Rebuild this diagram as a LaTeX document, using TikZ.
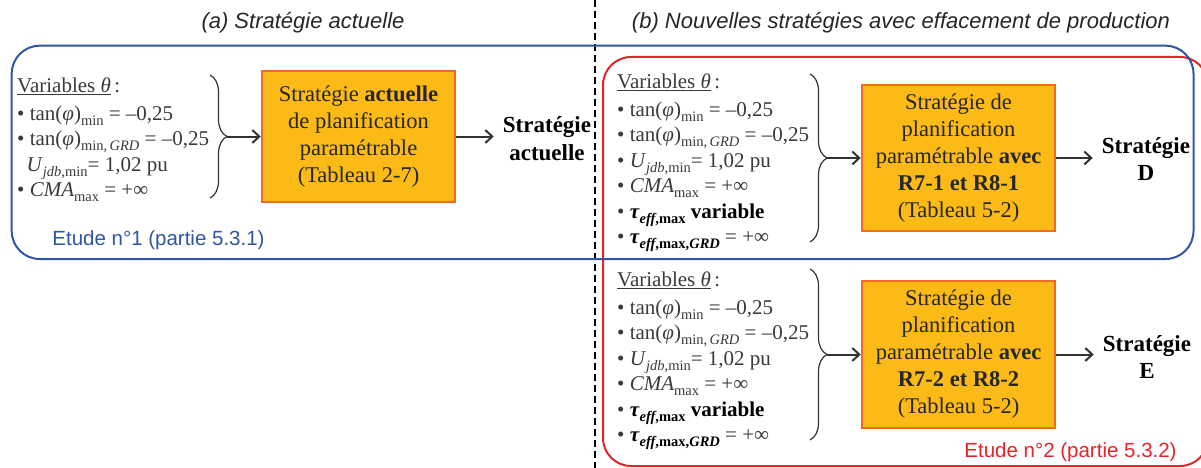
\documentclass[tikz,border=0pt]{standalone}
\usepackage{fontspec}
\setmainfont{Liberation Serif}
\setsansfont{Liberation Sans}
\usetikzlibrary{arrows.meta,decorations.pathreplacing}
\definecolor{bluebox}{HTML}{2F55A4}
\definecolor{redbox}{HTML}{E4232B}
\definecolor{orfill}{HTML}{FBBA16}
\definecolor{ordraw}{HTML}{F26A22}
\definecolor{txt}{HTML}{3A3A3A}
\newcommand\lsub[1]{\raisebox{-5pt}{\fontsize{14.5}{14.5}\selectfont #1}}
\newcommand\bk[1]{\textcolor{black}{\textbf{#1}}}
\begin{document}
\begin{tikzpicture}[x=1pt,y=-1pt,
  title/.style={font=\sffamily\itshape\fontsize{22}{26}\selectfont, text=black!85, inner sep=0},
  vars/.style={font=\fontsize{21}{25.5}\selectfont, text=txt, align=left, anchor=north west, inner sep=0},
  stratbox/.style={draw=ordraw, fill=orfill, line width=2.5pt, minimum width=193pt, align=center, font=\fontsize{22.5}{27}\selectfont, inner sep=0, text=black!85},
  result/.style={font=\bfseries\fontsize{23}{27.5}\selectfont, align=center, inner sep=0},
  conn/.style={-{Straight Barb[length=7pt,width=13pt,line width=2pt]}, line width=2pt, draw=black!80},
  bracestyle/.style={decorate, decoration={brace, amplitude=17pt, aspect=0.5}, line width=1.2pt, draw=black!80},
  etude/.style={font=\sffamily\fontsize{20.5}{24}\selectfont, inner sep=0}]

\useasboundingbox (0,0) rectangle (1201,468);

\draw[dash pattern=on 7pt off 4pt, line width=1.2pt] (595,0) -- (595,468);
\draw[redbox, line width=2pt, rounded corners=28pt] (603,57) rectangle (1208,466);
\draw[bluebox, line width=2pt, rounded corners=28pt] (11.7,45.7) rectangle (1193.5,259);

\node[title] (ta) at (303,23) {(a) Stratégie actuelle};
\node[title] (tb) at (901,23) {(b) Nouvelles stratégies avec effacement de production};

% boxes
\node[stratbox, minimum height=131pt] (b1) at (358.5,136.5) {Stratégie \textbf{actuelle}\\de planification\\paramétrable\\(Tableau 2-7)};
\node[stratbox, minimum height=146pt] (b2) at (958.5,158) {Stratégie de\\planification\\paramétrable \textbf{avec}\\\textbf{R7-1 et R8-1}\\(Tableau 5-2)};
\node[stratbox, minimum height=147pt] (b3) at (958.5,354.5) {Stratégie de\\planification\\paramétrable \textbf{avec}\\\textbf{R7-2 et R8-2}\\(Tableau 5-2)};

% results
\node[result] (s1) at (547,138.5) {Stratégie\\actuelle};
\node[result] (s2) at (1146,159) {Stratégie\\D};
\node[result] (s3) at (1147,357) {Stratégie\\E};

% variables
\node[vars] (v1) at (17,78) {\underline{Variables \textit{θ}}\,:\\[2pt]
• tan(\textit{φ})\lsub{min} = –0,25\\
• tan(\textit{φ})\lsub{min,\,\textit{GRD}} = –0,25\\
\hspace{0.45em}\textit{U}\lsub{\textit{jdb},min}= 1,02 pu\\
• \textit{CMA}\lsub{max} = +∞};

\node[vars] (v2) at (617,74) {\underline{Variables \textit{θ}}\,:\\[2pt]
• tan(\textit{φ})\lsub{min} = –0,25\\
• tan(\textit{φ})\lsub{min,\,\textit{GRD}} = –0,25\\
• \textit{U}\lsub{\textit{jdb},min}= 1,02 pu\\
• \textit{CMA}\lsub{max} = +∞\\
• \bk{\textit{τ}\lsub{\textit{eff},max} variable}\\
• \bk{\textit{τ}\lsub{\textit{eff},max,\textit{GRD}}} = +∞};

\node[vars] (v3) at (617,272) {\underline{Variables \textit{θ}}\,:\\[2pt]
• tan(\textit{φ})\lsub{min} = –0,25\\
• tan(\textit{φ})\lsub{min,\,\textit{GRD}} = –0,25\\
• \textit{U}\lsub{\textit{jdb},min}= 1,02 pu\\
• \textit{CMA}\lsub{max} = +∞\\
• \bk{\textit{τ}\lsub{\textit{eff},max} variable}\\
• \bk{\textit{τ}\lsub{\textit{eff},max,\textit{GRD}}} = +∞};

% braces
\draw[bracestyle] (210,75) -- (210,198);
\coordinate (t1) at (227,136.5);
\draw[bracestyle] (810,74) -- (810,242);
\coordinate (t2) at (827,158);
\draw[bracestyle] (810,269) -- (810,440);
\coordinate (t3) at (827,354.5);

% connectors
\draw[conn] (t1) -- (b1.west);
\draw[conn] (t2) -- (b2.west);
\draw[conn] (t3) -- (b3.west);
\draw[conn, shorten >=9pt] (b1.east) -- (b1.east -| s1.west);
\draw[conn, shorten >=9pt] (b2.east) -- (b2.east -| s2.west);
\draw[conn, shorten >=9pt] (b3.east) -- (b3.east -| s3.west);

% etudes
\node[etude, text=bluebox] (e1) at (158.5,240) {Etude n°1 (partie 5.3.1)};
\node[etude, text=redbox] (e2) at (1070.5,452) {Etude n°2 (partie 5.3.2)};
\end{tikzpicture}
\end{document}
